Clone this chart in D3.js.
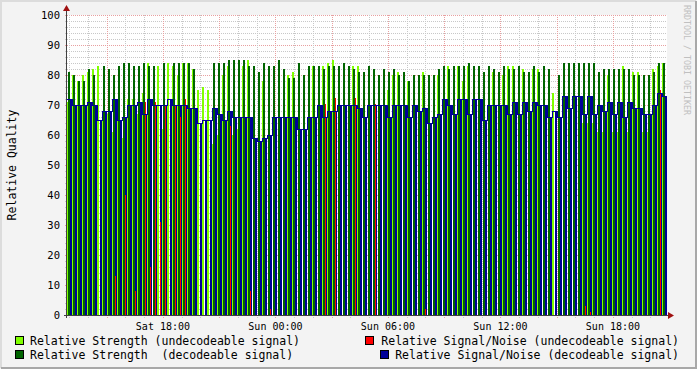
<!DOCTYPE html>
<html>
<head>
<meta charset="utf-8">
<script src="https://cdn.jsdelivr.net/npm/d3@7"></script>
<style>
body { margin: 0; background: #f3f3f3; }
svg { display: block; font-family: "DejaVu Sans Mono", monospace; }
</style>
</head>
<body>
<svg id="chart"></svg>
<script>
// 16 minute samples, Sat 12:53 -> Sun 20:53
var t0 = new Date(2024, 0, 6, 12, 53);
var t1 = new Date(2024, 0, 7, 20, 53);
var stepMinutes = 16;

var strengthDec = [81,80,78,78,82,80,null,83,82,80, 83,84,84,83,83,84,83,83,null,84,
  null,84,84,84,84,82,null,null,null,84, 84,84,85,85,85,85,83,83,81,84,
  83,83,85,82,79,79,84,80,83,83, 83,82,83,83,83,84,83,82,81,81,
  83,82,80,82,81,82,80,81,78,80, 80,80,80,80,82,83,82,83,83,83,
  84,83,83,81,83,82,81,83,82,82, 83,81,81,83,81,83,82,null,80,84,
  84,84,84,84,84,84,81,82,82,82, 82,82,82,80,80,80,80,81,84,84];

var strengthUnd = [71,80,78,80,81,82,83,67,67,61, 65,59,72,72,67,74,84,null,83,62,
  84,83,80,84,84,82,75,76,75,57, 60,80,83,60,62,83,85,null,null,78,
  null,null,null,null,80,81,null,null,null,83, null,83,84,85,null,null,null,83,83,null,
  null,null,null,null,75,80,81,null,78,null, null,81,null,null,80,null,83,null,83,78,
  83,null,null,null,null,81,null,80,83,83, null,82,null,82,82,null,null,74,null,null,
  null,null,null,64,64,64,61,61,80,61, 61,83,61,81,81,61,61,82,83,84];

var snrDec = [72,70,70,70,71,70,65,68,68,72, 65,66,70,70,71,67,72,70,70,70,
  72,70,70,70,69,69,64,65,65,69, 67,65,68,66,66,66,66,59,58,59,
  60,66,66,66,66,66,62,62,66,66, 70,66,68,68,70,70,70,70,69,66,
  70,70,70,70,66,70,70,70,66,70, 68,69,64,66,67,72,70,67,72,72,
  67,72,72,65,70,70,70,70,67,71, 67,71,68,71,70,70,66,68,66,73,
  69,73,73,67,73,67,70,68,71,67, 71,66,71,69,69,67,67,70,74,73];

var snrUnd = [null,null,null,null,null,null,null,null,null,13, null,40,null,8,null,71,16,71,31,70,
  null,70,66,72,null,null,null,null,null,null, null,null,63,null,null,null,8,null,null,null,
  2,null,null,null,null,null,null,null,null,null, null,70.5,null,72.5,null,null,null,72.5,null,null,
  null,70.5,null,null,null,null,null,null,null,null, null,2,null,null,null,null,null,null,null,null,
  null,null,null,null,null,null,null,null,null,null, null,null,null,null,null,null,null,null,null,null,
  null,null,null,3,1,null,null,null,null,null, null,null,null,null,null,null,null,null,75,null];

var yTicks = [0,10,20,30,40,50,60,70,80,90,100];

var legendItems = [
  {label: 'Relative Strength (undecodeable signal)', color: '#80ff00'},
  {label: 'Relative Signal/Noise (undecodeable signal)', color: '#ff0000'},
  {label: 'Relative Strength  (decodeable signal)', color: '#006400'},
  {label: 'Relative Signal/Noise (decodeable signal)', color: '#000098'}
];

var width = 697, height = 369;
var plotLeft = 67, plotRight = 667, plotTop = 15, plotBottom = 315;

var times = strengthDec.map(function(d, i) { return d3.timeMinute.offset(t0, i * stepMinutes); });

var xScale = d3.scaleTime().domain([t0, t1]).range([plotLeft, plotRight]);
var yScale = d3.scaleLinear().domain([0, 100]).range([plotBottom, plotTop]);

var svg = d3.select('#chart').attr('width', width).attr('height', height);

// frame
svg.append('rect').attr('width', width).attr('height', height).attr('fill', '#f3f3f3');
svg.append('path').attr('d', 'M1,' + (height - 1) + 'V1H' + (width - 1)).attr('fill', 'none').attr('stroke', '#dcdcdc').attr('stroke-width', 2);
svg.append('path').attr('d', 'M1,' + (height - 1) + 'H' + (width - 1) + 'V1').attr('fill', 'none').attr('stroke', '#a8a8a8').attr('stroke-width', 2);
svg.append('rect').attr('x', plotLeft).attr('y', plotTop).attr('width', plotRight - plotLeft).attr('height', plotBottom - plotTop).attr('fill', '#ffffff');

// grid
var hours = d3.timeHour.every(1).range(t0, t1);
var grid = svg.append('g').attr('shape-rendering', 'crispEdges');
d3.range(0, 101, 2).forEach(function(v) {
  var major = v % 10 === 0;
  grid.append('line')
    .attr('x1', plotLeft - 2).attr('x2', plotRight)
    .attr('y1', Math.round(yScale(v)) + 0.5).attr('y2', Math.round(yScale(v)) + 0.5)
    .attr('stroke', major ? '#e8a0a0' : '#c8c8c8')
    .attr('stroke-dasharray', '1,1');
});
hours.forEach(function(h) {
  var major = h.getHours() % 3 === 0;
  var x = Math.round(xScale(h)) + 0.5;
  grid.append('line')
    .attr('x1', x).attr('x2', x).attr('y1', plotTop).attr('y2', plotBottom + 3)
    .attr('stroke', major ? '#e8a0a0' : '#c8c8c8')
    .attr('stroke-dasharray', '1,1');
});

// bars: light green behind, dark green over it, then S/N column
var marks = svg.append('g').attr('shape-rendering', 'crispEdges');
function bars(values, color, dx, w) {
  marks.selectAll(null)
    .data(values.map(function(v, i) { return {t: times[i], v: v}; }).filter(function(d) { return d.v != null; }))
    .enter().append('rect')
    .attr('x', function(d) { return xScale(d.t) + dx; })
    .attr('width', w)
    .attr('y', function(d) { return yScale(d.v); })
    .attr('height', function(d) { return yScale(0) - yScale(d.v); })
    .attr('fill', color);
}
bars(strengthUnd, '#80ff00', 0, 2);
bars(strengthDec, '#006400', 1, 2);
bars(snrDec, '#000098', 3, 2);

var snrPoints = snrDec.map(function(v, i) { return {t: times[i], v: v}; });
snrPoints.push({t: t1, v: snrDec[snrDec.length - 1]});
var snrLine = d3.line()
  .defined(function(d) { return d.v != null; })
  .x(function(d) { return xScale(d.t); })
  .y(function(d) { return Math.round(yScale(d.v)) + 0.5; })
  .curve(d3.curveStepAfter);
svg.append('path').datum(snrPoints).attr('d', snrLine)
  .attr('fill', 'none').attr('stroke', '#000098').attr('stroke-width', 1)
  .attr('shape-rendering', 'crispEdges');

bars(snrUnd, '#ff0000', 3, 1);

// axes
svg.append('line').attr('x1', plotLeft - 3).attr('x2', plotRight + 2).attr('y1', plotBottom + 0.5).attr('y2', plotBottom + 0.5)
  .attr('stroke', '#404040').attr('shape-rendering', 'crispEdges');
svg.append('line').attr('x1', plotLeft - 0.5).attr('x2', plotLeft - 0.5).attr('y1', plotBottom + 3).attr('y2', plotTop - 4)
  .attr('stroke', '#404040').attr('shape-rendering', 'crispEdges');
svg.append('path').attr('d', 'M' + (plotRight + 1) + ',' + (plotBottom - 3) + 'l6,3.5l-6,3.5z').attr('fill', '#a01010');
svg.append('path').attr('d', 'M' + (plotLeft - 4) + ',' + (plotTop - 4) + 'l3.5,-6l3.5,6z').attr('fill', '#a01010');

svg.append('g').selectAll('text')
  .data(yTicks).enter().append('text')
  .attr('x', plotLeft - 7).attr('y', function(d) { return yScale(d); })
  .attr('dy', '0.36em').attr('text-anchor', 'end')
  .attr('font-size', 10.5).attr('fill', '#000')
  .text(function(d) { return d; });

var fmt = d3.timeFormat('%a %H:%M');
svg.append('g').selectAll('text')
  .data(hours.filter(function(h) { return h.getHours() % 6 === 0; }))
  .enter().append('text')
  .attr('x', function(d) { return xScale(d); }).attr('y', 330)
  .attr('text-anchor', 'middle').attr('font-size', 10).attr('fill', '#000')
  .text(fmt);

svg.append('text')
  .attr('transform', 'translate(16,' + (plotTop + plotBottom) / 2 + ') rotate(-90)')
  .attr('text-anchor', 'middle').attr('font-size', 11.5).attr('fill', '#000')
  .text('Relative Quality');

svg.append('text')
  .attr('transform', 'translate(684,5) rotate(90)')
  .attr('font-size', 8.3).attr('fill', '#c0c0c0')
  .text('RRDTOOL / TOBI OETIKER');

// legend
var legendPos = [
  {bx: 15, tx: 30, y: 341, anchor: 'start'},
  {bx: 365, tx: 679, y: 341, anchor: 'end'},
  {bx: 15, tx: 30, y: 355, anchor: 'start'},
  {bx: 380, tx: 679, y: 355, anchor: 'end'}
];
var legend = svg.append('g');
legendItems.forEach(function(item, i) {
  var p = legendPos[i];
  legend.append('rect').attr('x', p.bx + 0.5).attr('y', p.y - 4.5).attr('width', 8).attr('height', 8)
    .attr('fill', item.color).attr('stroke', '#000').attr('stroke-width', 1);
  legend.append('text').attr('x', p.tx).attr('y', p.y).attr('dy', '0.35em')
    .attr('text-anchor', p.anchor).attr('font-size', 11.5).attr('fill', '#000')
    .style('white-space', 'pre')
    .text(item.label);
});
</script>
</body>
</html>
